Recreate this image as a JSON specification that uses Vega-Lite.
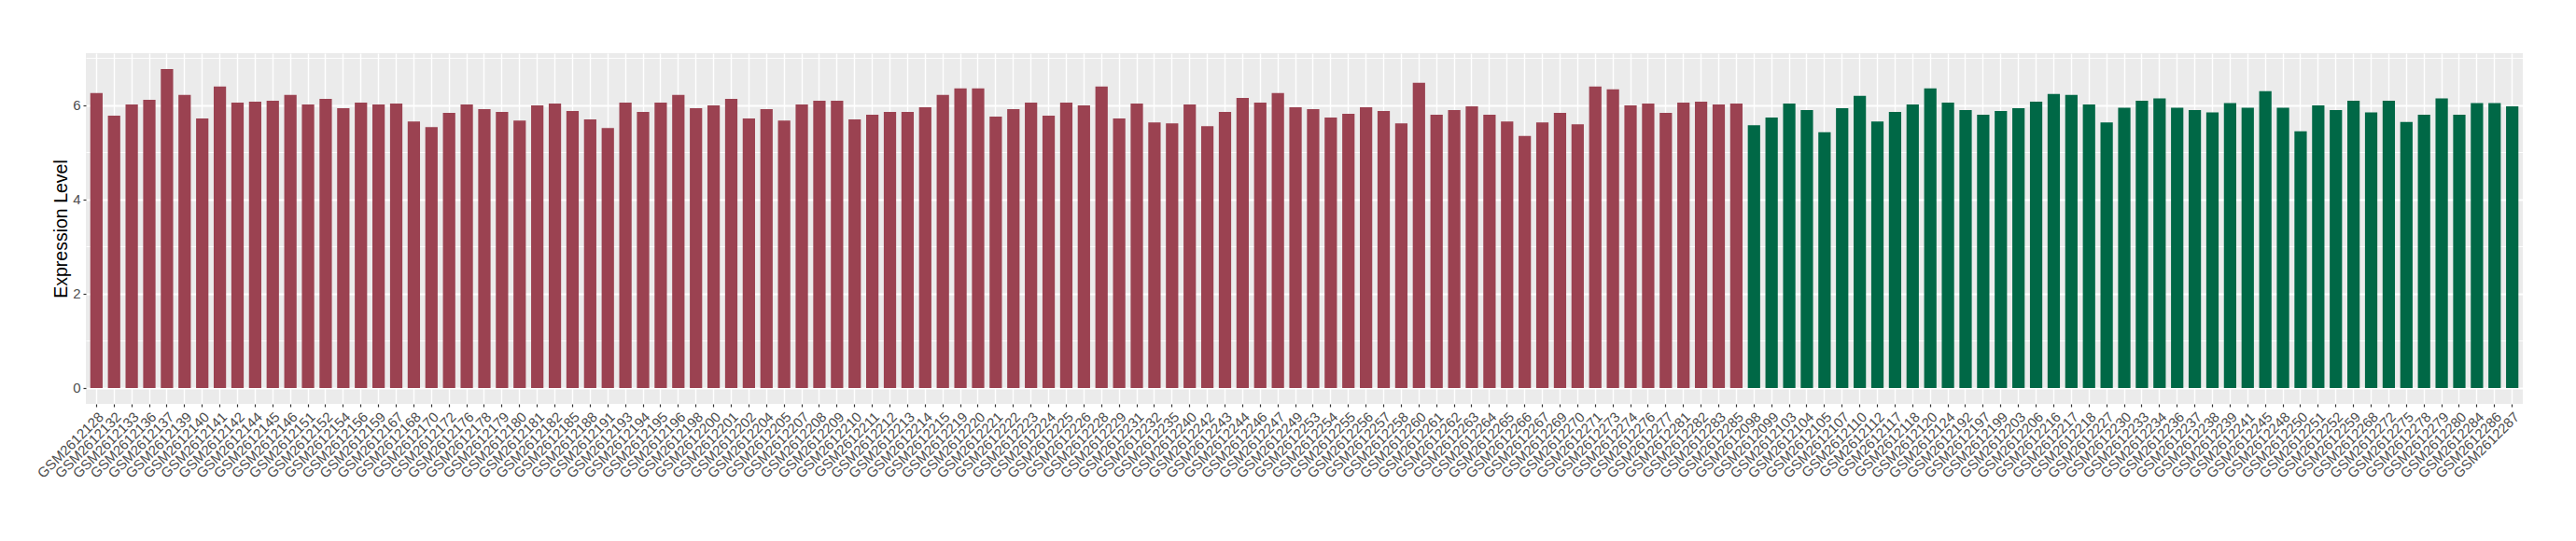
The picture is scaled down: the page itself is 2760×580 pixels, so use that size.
{
  "$schema": "https://vega.github.io/schema/vega-lite/v6.json",
  "width": 2611,
  "height": 376,
  "autosize": {"type": "none"},
  "padding": {"left": 92, "top": 57, "right": 57, "bottom": 147},
  "background": "white",
  "config": {"view": {"fill": "#EBEBEB", "stroke": null}, "font": "Liberation Sans"},
  "data": {"values": [
    {"sample": "GSM2612128", "value": 6.26, "group": "group1"},
    {"sample": "GSM2612132", "value": 5.78, "group": "group1"},
    {"sample": "GSM2612133", "value": 6.02, "group": "group1"},
    {"sample": "GSM2612136", "value": 6.12, "group": "group1"},
    {"sample": "GSM2612137", "value": 6.77, "group": "group1"},
    {"sample": "GSM2612139", "value": 6.22, "group": "group1"},
    {"sample": "GSM2612140", "value": 5.72, "group": "group1"},
    {"sample": "GSM2612141", "value": 6.40, "group": "group1"},
    {"sample": "GSM2612142", "value": 6.06, "group": "group1"},
    {"sample": "GSM2612144", "value": 6.08, "group": "group1"},
    {"sample": "GSM2612145", "value": 6.10, "group": "group1"},
    {"sample": "GSM2612146", "value": 6.22, "group": "group1"},
    {"sample": "GSM2612151", "value": 6.02, "group": "group1"},
    {"sample": "GSM2612152", "value": 6.14, "group": "group1"},
    {"sample": "GSM2612154", "value": 5.94, "group": "group1"},
    {"sample": "GSM2612156", "value": 6.06, "group": "group1"},
    {"sample": "GSM2612159", "value": 6.02, "group": "group1"},
    {"sample": "GSM2612167", "value": 6.04, "group": "group1"},
    {"sample": "GSM2612168", "value": 5.66, "group": "group1"},
    {"sample": "GSM2612170", "value": 5.54, "group": "group1"},
    {"sample": "GSM2612172", "value": 5.84, "group": "group1"},
    {"sample": "GSM2612176", "value": 6.02, "group": "group1"},
    {"sample": "GSM2612178", "value": 5.92, "group": "group1"},
    {"sample": "GSM2612179", "value": 5.86, "group": "group1"},
    {"sample": "GSM2612180", "value": 5.68, "group": "group1"},
    {"sample": "GSM2612181", "value": 6.00, "group": "group1"},
    {"sample": "GSM2612182", "value": 6.04, "group": "group1"},
    {"sample": "GSM2612185", "value": 5.88, "group": "group1"},
    {"sample": "GSM2612188", "value": 5.70, "group": "group1"},
    {"sample": "GSM2612191", "value": 5.52, "group": "group1"},
    {"sample": "GSM2612193", "value": 6.06, "group": "group1"},
    {"sample": "GSM2612194", "value": 5.86, "group": "group1"},
    {"sample": "GSM2612195", "value": 6.06, "group": "group1"},
    {"sample": "GSM2612196", "value": 6.22, "group": "group1"},
    {"sample": "GSM2612198", "value": 5.94, "group": "group1"},
    {"sample": "GSM2612200", "value": 6.00, "group": "group1"},
    {"sample": "GSM2612201", "value": 6.14, "group": "group1"},
    {"sample": "GSM2612202", "value": 5.72, "group": "group1"},
    {"sample": "GSM2612204", "value": 5.92, "group": "group1"},
    {"sample": "GSM2612205", "value": 5.68, "group": "group1"},
    {"sample": "GSM2612207", "value": 6.02, "group": "group1"},
    {"sample": "GSM2612208", "value": 6.10, "group": "group1"},
    {"sample": "GSM2612209", "value": 6.10, "group": "group1"},
    {"sample": "GSM2612210", "value": 5.70, "group": "group1"},
    {"sample": "GSM2612211", "value": 5.80, "group": "group1"},
    {"sample": "GSM2612212", "value": 5.86, "group": "group1"},
    {"sample": "GSM2612213", "value": 5.86, "group": "group1"},
    {"sample": "GSM2612214", "value": 5.96, "group": "group1"},
    {"sample": "GSM2612215", "value": 6.22, "group": "group1"},
    {"sample": "GSM2612219", "value": 6.36, "group": "group1"},
    {"sample": "GSM2612220", "value": 6.36, "group": "group1"},
    {"sample": "GSM2612221", "value": 5.76, "group": "group1"},
    {"sample": "GSM2612222", "value": 5.92, "group": "group1"},
    {"sample": "GSM2612223", "value": 6.06, "group": "group1"},
    {"sample": "GSM2612224", "value": 5.78, "group": "group1"},
    {"sample": "GSM2612225", "value": 6.06, "group": "group1"},
    {"sample": "GSM2612226", "value": 6.00, "group": "group1"},
    {"sample": "GSM2612228", "value": 6.40, "group": "group1"},
    {"sample": "GSM2612229", "value": 5.72, "group": "group1"},
    {"sample": "GSM2612231", "value": 6.04, "group": "group1"},
    {"sample": "GSM2612232", "value": 5.64, "group": "group1"},
    {"sample": "GSM2612235", "value": 5.62, "group": "group1"},
    {"sample": "GSM2612240", "value": 6.02, "group": "group1"},
    {"sample": "GSM2612242", "value": 5.56, "group": "group1"},
    {"sample": "GSM2612243", "value": 5.86, "group": "group1"},
    {"sample": "GSM2612244", "value": 6.16, "group": "group1"},
    {"sample": "GSM2612246", "value": 6.06, "group": "group1"},
    {"sample": "GSM2612247", "value": 6.26, "group": "group1"},
    {"sample": "GSM2612249", "value": 5.96, "group": "group1"},
    {"sample": "GSM2612253", "value": 5.92, "group": "group1"},
    {"sample": "GSM2612254", "value": 5.74, "group": "group1"},
    {"sample": "GSM2612255", "value": 5.82, "group": "group1"},
    {"sample": "GSM2612256", "value": 5.96, "group": "group1"},
    {"sample": "GSM2612257", "value": 5.88, "group": "group1"},
    {"sample": "GSM2612258", "value": 5.62, "group": "group1"},
    {"sample": "GSM2612260", "value": 6.48, "group": "group1"},
    {"sample": "GSM2612261", "value": 5.80, "group": "group1"},
    {"sample": "GSM2612262", "value": 5.90, "group": "group1"},
    {"sample": "GSM2612263", "value": 5.98, "group": "group1"},
    {"sample": "GSM2612264", "value": 5.80, "group": "group1"},
    {"sample": "GSM2612265", "value": 5.66, "group": "group1"},
    {"sample": "GSM2612266", "value": 5.35, "group": "group1"},
    {"sample": "GSM2612267", "value": 5.64, "group": "group1"},
    {"sample": "GSM2612269", "value": 5.84, "group": "group1"},
    {"sample": "GSM2612270", "value": 5.60, "group": "group1"},
    {"sample": "GSM2612271", "value": 6.40, "group": "group1"},
    {"sample": "GSM2612273", "value": 6.34, "group": "group1"},
    {"sample": "GSM2612274", "value": 6.00, "group": "group1"},
    {"sample": "GSM2612276", "value": 6.04, "group": "group1"},
    {"sample": "GSM2612277", "value": 5.84, "group": "group1"},
    {"sample": "GSM2612281", "value": 6.06, "group": "group1"},
    {"sample": "GSM2612282", "value": 6.08, "group": "group1"},
    {"sample": "GSM2612283", "value": 6.02, "group": "group1"},
    {"sample": "GSM2612285", "value": 6.04, "group": "group1"},
    {"sample": "GSM2612098", "value": 5.58, "group": "group2"},
    {"sample": "GSM2612099", "value": 5.74, "group": "group2"},
    {"sample": "GSM2612103", "value": 6.04, "group": "group2"},
    {"sample": "GSM2612104", "value": 5.90, "group": "group2"},
    {"sample": "GSM2612105", "value": 5.43, "group": "group2"},
    {"sample": "GSM2612107", "value": 5.94, "group": "group2"},
    {"sample": "GSM2612110", "value": 6.20, "group": "group2"},
    {"sample": "GSM2612112", "value": 5.66, "group": "group2"},
    {"sample": "GSM2612117", "value": 5.86, "group": "group2"},
    {"sample": "GSM2612118", "value": 6.02, "group": "group2"},
    {"sample": "GSM2612120", "value": 6.36, "group": "group2"},
    {"sample": "GSM2612124", "value": 6.06, "group": "group2"},
    {"sample": "GSM2612192", "value": 5.90, "group": "group2"},
    {"sample": "GSM2612197", "value": 5.80, "group": "group2"},
    {"sample": "GSM2612199", "value": 5.88, "group": "group2"},
    {"sample": "GSM2612203", "value": 5.94, "group": "group2"},
    {"sample": "GSM2612206", "value": 6.08, "group": "group2"},
    {"sample": "GSM2612216", "value": 6.24, "group": "group2"},
    {"sample": "GSM2612217", "value": 6.22, "group": "group2"},
    {"sample": "GSM2612218", "value": 6.02, "group": "group2"},
    {"sample": "GSM2612227", "value": 5.64, "group": "group2"},
    {"sample": "GSM2612230", "value": 5.95, "group": "group2"},
    {"sample": "GSM2612233", "value": 6.10, "group": "group2"},
    {"sample": "GSM2612234", "value": 6.15, "group": "group2"},
    {"sample": "GSM2612236", "value": 5.95, "group": "group2"},
    {"sample": "GSM2612237", "value": 5.90, "group": "group2"},
    {"sample": "GSM2612238", "value": 5.85, "group": "group2"},
    {"sample": "GSM2612239", "value": 6.05, "group": "group2"},
    {"sample": "GSM2612241", "value": 5.95, "group": "group2"},
    {"sample": "GSM2612245", "value": 6.30, "group": "group2"},
    {"sample": "GSM2612248", "value": 5.95, "group": "group2"},
    {"sample": "GSM2612250", "value": 5.45, "group": "group2"},
    {"sample": "GSM2612251", "value": 6.00, "group": "group2"},
    {"sample": "GSM2612252", "value": 5.90, "group": "group2"},
    {"sample": "GSM2612259", "value": 6.10, "group": "group2"},
    {"sample": "GSM2612268", "value": 5.85, "group": "group2"},
    {"sample": "GSM2612272", "value": 6.10, "group": "group2"},
    {"sample": "GSM2612275", "value": 5.65, "group": "group2"},
    {"sample": "GSM2612278", "value": 5.80, "group": "group2"},
    {"sample": "GSM2612279", "value": 6.15, "group": "group2"},
    {"sample": "GSM2612280", "value": 5.80, "group": "group2"},
    {"sample": "GSM2612284", "value": 6.05, "group": "group2"},
    {"sample": "GSM2612286", "value": 6.05, "group": "group2"},
    {"sample": "GSM2612287", "value": 5.98, "group": "group2"}
  ]},
  "mark": {"type": "bar"},
  "encoding": {
    "x": {
      "field": "sample",
      "type": "nominal",
      "sort": null,
      "scale": {"paddingInner": 0.3, "paddingOuter": 0.25},
      "axis": {
        "title": null,
        "labelAngle": -45,
        "labelAlign": "right",
        "labelBaseline": "top",
        "labelFontSize": 15,
        "labelColor": "#4D4D4D",
        "labelPadding": 3,
        "labelOverlap": false,
        "labelBound": false,
        "labelLimit": 0,
        "tickColor": "#333333",
        "tickSize": 3,
        "tickWidth": 1.2,
        "domain": false,
        "grid": true,
        "gridColor": "#FFFFFF",
        "gridWidth": 1.4,
        "bandPosition": 0.5
      }
    },
    "y": {
      "field": "value",
      "type": "quantitative",
      "scale": {"domain": [-0.3385, 7.1085], "nice": false, "zero": false},
      "axis": {
        "title": "Expression Level",
        "titleFontSize": 19.5,
        "titleFontWeight": "normal",
        "titleColor": "#000000",
        "titleX": -27,
        "titleY": 188,
        "titleAngle": -90,
        "titleAlign": "center",
        "titleBaseline": "middle",
        "values": [0, 1, 2, 3, 4, 5, 6, 7],
        "labelExpr": "datum.value % 2 == 0 ? datum.label : ''",
        "labelFontSize": 15,
        "labelColor": "#4D4D4D",
        "labelPadding": 3,
        "tickColor": "#333333",
        "tickSize": 3,
        "tickWidth": 1.2,
        "tickOpacity": {"condition": {"test": "datum.value % 2 == 0", "value": 1}, "value": 0},
        "domain": false,
        "grid": true,
        "gridColor": "#FFFFFF",
        "gridWidth": {"condition": {"test": "datum.value % 2 == 0", "value": 1.8}, "value": 0.9}
      }
    },
    "y2": {"datum": 0},
    "color": {
      "field": "group",
      "type": "nominal",
      "scale": {"domain": ["group1", "group2"], "range": ["#9B4251", "#006846"]},
      "legend": null
    }
  }
}
